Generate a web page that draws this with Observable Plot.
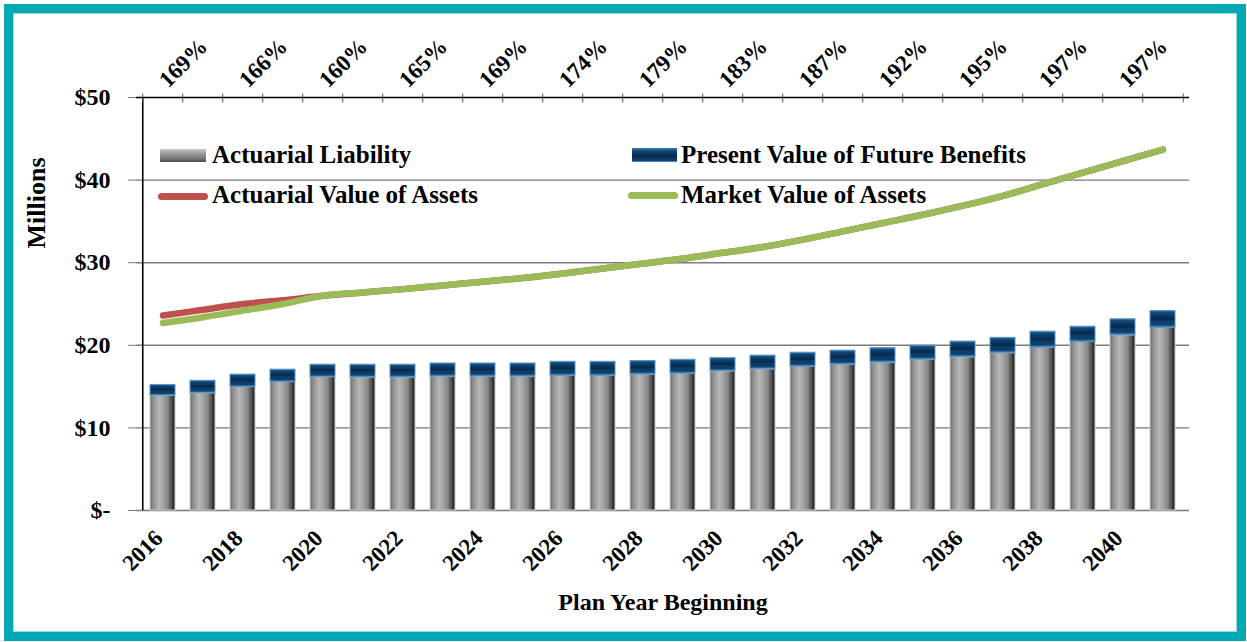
<!DOCTYPE html>
<html>
<head>
<meta charset="utf-8">
<script src="https://cdn.jsdelivr.net/npm/d3@7"></script>
<script src="https://cdn.jsdelivr.net/npm/@observablehq/plot@0.6"></script>
<style>
  body { margin: 0; background: #fff; }
  #wrap { position: relative; width: 1247px; height: 642px; overflow: hidden;
          font-family: "Liberation Serif", "Times New Roman", serif; font-weight: bold; color: #000; }
  #frame { position: absolute; left: 4px; top: 4px; width: 1224px; height: 619px;
           border: 9px solid #03A8B5; box-shadow: inset 0 0 0 1px #9ad8de; }
  #chart { position: absolute; left: 0; top: 0; }
  .leg { position: absolute; font-size: 25px; line-height: 25px; white-space: nowrap; }
  .sw { position: absolute; }
  #ylab { position: absolute; left: 37px; top: 203px; font-size: 26px; line-height: 26px;
          transform: translate(-50%, -50%) rotate(-90deg); white-space: nowrap; }
</style>
</head>
<body>
<div id="wrap">
  <div id="frame"></div>
  <div id="chart"></div>
  <div id="ylab">Millions</div>
  <div class="sw" style="left:160px;top:149px;width:46px;height:13px;background:linear-gradient(#c9c9c9,#a0a0a0 30%,#7a7a7a 70%,#4a4a4a);"></div>
  <div class="leg" style="left:212px;top:142px;">Actuarial Liability</div>
  <div class="sw" style="left:632px;top:148px;width:45px;height:14px;background:linear-gradient(#3a7cb0,#0d4272 25%,#072a4a 60%,#0f4575 90%,#6aa6d6);"></div>
  <div class="leg" style="left:681px;top:142px;">Present Value of Future Benefits</div>
  <div class="sw" style="left:158px;top:193px;width:50px;height:7px;border-radius:4px;background:#C0504D;"></div>
  <div class="leg" style="left:212px;top:182px;">Actuarial Value of Assets</div>
  <div class="sw" style="left:628px;top:192px;width:50px;height:7px;border-radius:4px;background:#9BBB59;"></div>
  <div class="leg" style="left:681px;top:182px;">Market Value of Assets</div>
</div>
<script>
// ---- data ----
const years = [2016, 2017, 2018, 2019, 2020, 2021, 2022, 2023, 2024, 2025, 2026, 2027, 2028,
               2029, 2030, 2031, 2032, 2033, 2034, 2035, 2036, 2037, 2038, 2039, 2040, 2041];
const actuarialLiability = [13.9, 14.2, 14.95, 15.55, 16.15, 16.1, 16.1, 16.2, 16.2, 16.2, 16.3, 16.3, 16.45,
                            16.55, 16.85, 17.1, 17.4, 17.65, 17.9, 18.25, 18.55, 19.05, 19.7, 20.4, 21.2, 22.1];
const presentValueFutureBenefits = [15.2, 15.7, 16.45, 17.05, 17.65, 17.65, 17.65, 17.8, 17.8, 17.8, 18.0, 18.0, 18.1,
                                    18.25, 18.45, 18.75, 19.1, 19.35, 19.65, 19.95, 20.45, 20.9, 21.65, 22.25, 23.15, 24.15];
const actuarialValueAssets = [23.6, 24.3, 25.0, 25.45, 26.0, 26.4, 26.8, 27.25, 27.7, 28.15, 28.7, 29.3, 29.9,
                              30.5, 31.2, 31.9, 32.8, 33.8, 34.8, 35.8, 36.9, 38.1, 39.5, 40.9, 42.3, 43.7];
const marketValueAssets = [22.7, 23.4, 24.2, 25.0, 26.0, 26.4, 26.8, 27.25, 27.7, 28.15, 28.7, 29.3, 29.9,
                           30.5, 31.2, 31.9, 32.8, 33.8, 34.8, 35.8, 36.9, 38.1, 39.5, 40.9, 42.3, 43.7];
const labelYears = [2016, 2018, 2020, 2022, 2024, 2026, 2028, 2030, 2032, 2034, 2036, 2038, 2040];
const fundedRatioLabels = ["169%", "166%", "160%", "165%", "169%", "174%", "179%", "183%", "187%", "192%", "195%", "197%", "197%"];
const yTicks = [0, 10, 20, 30, 40, 50];

// ---- derived tables ----
const rows = years.map((year, i) => ({
  year,
  al: actuarialLiability[i],
  pvfb: presentValueFutureBenefits[i],
  ava: actuarialValueAssets[i],
  mva: marketValueAssets[i]
}));
const ratioByYear = new Map(labelYears.map((y, i) => [y, fundedRatioLabels[i]]));

const W = 1247, H = 642, mL = 136, mR = 58, mT = 97, mB = 132;
const halfStep = (W - mL - mR) / years.length / 2;

const chart = Plot.plot({
  width: W, height: H,
  marginTop: mT, marginBottom: mB, marginLeft: mL, marginRight: mR,
  style: { fontFamily: '"Liberation Serif", "Times New Roman", serif', fontWeight: "bold",
           fontSize: "24px", color: "#000", background: "transparent", overflow: "visible" },
  x: { type: "band", domain: years, paddingInner: 0.38, paddingOuter: 0.19, axis: null },
  y: { domain: [0, 50], axis: null },
  marks: [
    Plot.ruleY(yTicks.slice(0, -1), { stroke: "#7a7a7a", strokeWidth: 1.4 }),
    Plot.axisY({ ticks: yTicks, tickFormat: d => d === 0 ? "$-" : "$" + d, tickSize: 8, tickPadding: 18,
                 stroke: "#7a7a7a", label: null, fontSize: 24 }),
    Plot.barY(rows, { x: "year", y1: 0, y2: "al", fill: "url(#gGray)", stroke: "#c5cfd8", strokeWidth: 1 }),
    Plot.barY(rows, { x: "year", y1: "al", y2: "pvfb", fill: "url(#gBlue)", stroke: "#5b93c2", strokeWidth: 1 }),
    Plot.lineY(rows, { x: "year", y: "ava", stroke: "#C0504D", strokeWidth: 6.5, curve: "catmull-rom", strokeLinecap: "round" }),
    Plot.lineY(rows, { x: "year", y: "mva", stroke: "#9BBB59", strokeWidth: 6.5, curve: "catmull-rom", strokeLinecap: "round" }),
    // left axis line and top axis line
    Plot.ruleX([years[0]], { y1: 0, y2: 50, dx: -halfStep, stroke: "#000", strokeWidth: 1.6 }),
    Plot.ruleY([50], { stroke: "#000", strokeWidth: 1.6 }),
    // top tick marks at category boundaries
    Plot.axisX({ anchor: "top", ticks: years, tickFormat: () => "", tickSize: 9, dx: -halfStep, dy: 4.5,
                 stroke: "#555", label: null }),
    Plot.axisX({ anchor: "top", ticks: [years[years.length - 1]], tickFormat: () => "", tickSize: 9, dx: halfStep, dy: 4.5,
                 stroke: "#555", label: null }),
    // funded ratio labels on top (rotated)
    Plot.text(labelYears, { x: d => d, text: d => ratioByYear.get(d), frameAnchor: "top", rotate: -45,
                            textAnchor: "start", lineAnchor: "middle", dx: 0, dy: -14, fontSize: 23 }),
    // year labels on bottom (rotated)
    Plot.text(labelYears, { x: d => d, text: d => String(d), frameAnchor: "bottom", rotate: -45,
                            textAnchor: "end", lineAnchor: "middle", dx: -4, dy: 24, fontSize: 23 }),
    // x axis title
    Plot.axisX({ anchor: "bottom", ticks: [], tickSize: 0, label: "Plan Year Beginning",
                 labelAnchor: "center", labelOffset: 99, fontSize: 24 })
  ]
});

const defs = document.createElementNS("http://www.w3.org/2000/svg", "defs");
defs.innerHTML = `
  <linearGradient id="gGray" x1="0" x2="1" y1="0" y2="0">
    <stop offset="0" stop-color="#6a6a6a"/>
    <stop offset="0.12" stop-color="#8c8c8c"/>
    <stop offset="0.35" stop-color="#b6b6b6"/>
    <stop offset="0.5" stop-color="#a6a6a6"/>
    <stop offset="0.7" stop-color="#888888"/>
    <stop offset="0.88" stop-color="#474747"/>
    <stop offset="1" stop-color="#1c1c1c"/>
  </linearGradient>
  <linearGradient id="gBlue" x1="0" x2="0" y1="0" y2="1">
    <stop offset="0" stop-color="#2f6fa3"/>
    <stop offset="0.15" stop-color="#0e4676"/>
    <stop offset="0.5" stop-color="#06284a"/>
    <stop offset="0.6" stop-color="#0b3a64"/>
    <stop offset="0.85" stop-color="#0d426e"/>
    <stop offset="1" stop-color="#5b9bd0"/>
  </linearGradient>`;
chart.insertBefore(defs, chart.firstChild);
document.getElementById("chart").appendChild(chart);
</script>
</body>
</html>
